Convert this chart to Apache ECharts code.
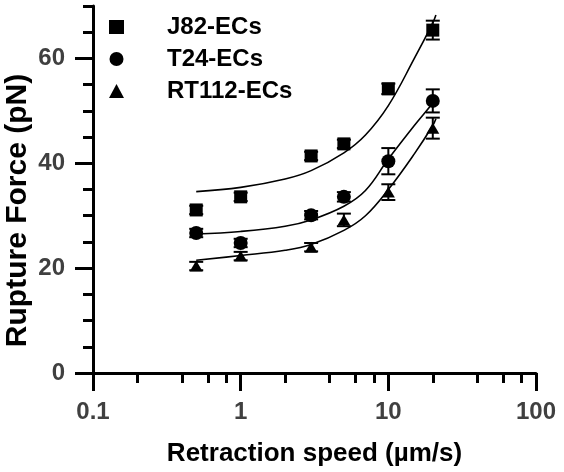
<!DOCTYPE html>
<html>
<head>
<meta charset="utf-8">
<script src="https://cdn.jsdelivr.net/npm/echarts@6/dist/echarts.min.js"></script>
<style>
html,body{margin:0;padding:0;background:#fff;}
#chart{width:564px;height:472px;}
</style>
</head>
<body>
<div id="chart"></div>
<script>
// ---- data ----
const speeds = [0.5, 1, 3, 5, 10, 20];
const j82Mean = [31.1, 33.6, 41.4, 43.7, 54.2, 65.4];
const j82Err  = [0.8, 0.8, 0.8, 0.8, 1.0, 1.8];
const t24Mean = [26.7, 24.8, 30.1, 33.6, 40.4, 51.9];
const t24Err  = [0.8, 0.8, 0.8, 0.9, 2.5, 2.2];
const rtMean  = [20.4, 22.3, 24.0, 29.2, 34.5, 46.7];
const rtErr   = [0.8, 0.8, 0.8, 1.2, 1.5, 2.0];

// fitted curves
const fitSpeeds = [0.5, 1, 2, 3, 5, 7, 10, 15, 20, 21];
const j82Fit = [34.6, 35.4, 37.0, 38.6, 42.0, 45.4, 51.0, 60.0, 66.8, 68.3];
const t24Fit = [26.5, 27.0, 28.0, 29.2, 31.8, 34.8, 40.8, 47.2, 51.5, 52.5];
const rtFit  = [21.5, 22.4, 23.4, 24.5, 27.2, 30.0, 35.0, 41.8, 47.2, 48.5];

const seriesNames = ['J82-ECs', 'T24-ECs', 'RT112-ECs'];
const xMinorTicks = [0.2, 0.4, 0.6, 0.8, 2, 4, 6, 8, 20, 40, 60, 80];
const yLabelValues = [0, 20, 40, 60];

// ---- build ----
const pts = (xs, ys) => xs.map((x, i) => [x, ys[i]]);
const errPts = (xs, ys, es) => xs.map((x, i) => [x, ys[i], es[i]]);
const FONT = 'Liberation Sans';

function errRender(params, api) {
  const x = api.value(0), y = api.value(1), e = api.value(2);
  const top = api.coord([x, y + e]);
  const bot = api.coord([x, y - e]);
  const hw = 7;
  const st = { stroke: '#000', lineWidth: 2 };
  return {
    type: 'group',
    children: [
      { type: 'line', shape: { x1: top[0], y1: top[1], x2: bot[0], y2: bot[1] }, style: st },
      { type: 'line', shape: { x1: top[0] - hw, y1: top[1], x2: top[0] + hw, y2: top[1] }, style: st },
      { type: 'line', shape: { x1: bot[0] - hw, y1: bot[1], x2: bot[0] + hw, y2: bot[1] }, style: st }
    ]
  };
}

const fitSeries = (name, ys) => ({
  name: name, type: 'line', data: pts(fitSpeeds, ys), smooth: 0.4,
  showSymbol: false, symbol: 'none', silent: true,
  lineStyle: { color: '#000', width: 1.6 }, z: 2
});
const errSeries = (name, ys, es) => ({
  name: name, type: 'custom', renderItem: errRender,
  data: errPts(speeds, ys, es), z: 3, silent: true
});
const scatter = (name, ys, sym, size) => ({
  name: name, type: 'scatter', data: pts(speeds, ys), symbol: sym,
  symbolSize: size, itemStyle: { color: '#000', opacity: 1 }, z: 4
});

const axisLineStyle = { color: '#000', width: 3 };

const option = {
  animation: false,
  backgroundColor: '#fff',
  grid: { left: 93, right: 28, top: 6, bottom: 99, containLabel: false, outerBoundsMode: 'none' },
  legend: {
    orient: 'vertical', left: 104, top: 10,
    itemWidth: 15, itemHeight: 14, itemGap: 8,
    data: seriesNames,
    textStyle: { fontFamily: FONT, fontWeight: 'bold', fontSize: 24, color: '#000',
                 lineHeight: 24, padding: [0, 0, 0, 38] }
  },
  xAxis: [
    {
      type: 'log', logBase: 10, min: 0.1, max: 100,
      name: 'Retraction speed (µm/s)', nameLocation: 'middle', nameGap: 68,
      nameMoveOverlap: false,
      nameTextStyle: { fontFamily: FONT, fontWeight: 'bold', fontSize: 26, color: '#000' },
      axisLine: { show: true, lineStyle: axisLineStyle },
      axisTick: { show: true, inside: false, length: 18, lineStyle: axisLineStyle },
      axisLabel: { margin: 27, fontFamily: FONT, fontWeight: 'bold', fontSize: 24, color: '#404040',
                   formatter: v => String(v) },
      splitLine: { show: false }, minorTick: { show: false }
    },
    {
      type: 'log', logBase: 10, min: 0.1, max: 100, position: 'bottom',
      axisLine: { show: false },
      axisTick: { show: true, inside: false, length: 10, customValues: xMinorTicks, lineStyle: axisLineStyle },
      axisLabel: { show: false },
      splitLine: { show: false }
    }
  ],
  yAxis: [
    {
      type: 'value', min: 0, max: 70, interval: 5,
      name: 'Rupture Force (pN)', nameLocation: 'middle', nameGap: 60,
      nameMoveOverlap: false,
      nameTextStyle: { fontFamily: FONT, fontWeight: 'bold', fontSize: 30, color: '#000',
                       padding: [0, 42, 0, 0] },
      axisLine: { show: true, lineStyle: axisLineStyle },
      axisTick: { show: true, inside: false, length: 10, lineStyle: axisLineStyle },
      axisLabel: { margin: 28, customValues: yLabelValues, fontFamily: FONT, fontWeight: 'bold',
                   fontSize: 24, color: '#404040' },
      splitLine: { show: false }
    },
    {
      type: 'value', min: 0, max: 70, position: 'left',
      axisLine: { show: false },
      axisTick: { show: true, inside: false, length: 18, customValues: yLabelValues, lineStyle: axisLineStyle },
      axisLabel: { show: false },
      splitLine: { show: false }
    }
  ],
  series: [
    fitSeries('J82 fit', j82Fit),
    fitSeries('T24 fit', t24Fit),
    fitSeries('RT112 fit', rtFit),
    errSeries('J82 err', j82Mean, j82Err),
    errSeries('T24 err', t24Mean, t24Err),
    errSeries('RT112 err', rtMean, rtErr),
    scatter(seriesNames[0], j82Mean, 'rect', 13),
    scatter(seriesNames[1], t24Mean, 'circle', 14),
    scatter(seriesNames[2], rtMean, 'triangle', [13, 11])
  ]
};

const chart = echarts.init(document.getElementById('chart'), null, { renderer: 'canvas' });
chart.setOption(option);
</script>
</body>
</html>
